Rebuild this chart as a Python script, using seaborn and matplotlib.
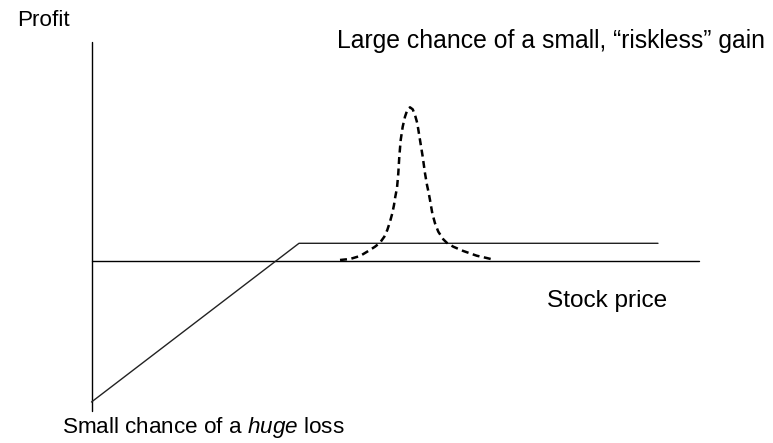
import matplotlib
matplotlib.use("Agg")
import matplotlib.pyplot as plt
import seaborn as sns

# ---- data (arbitrary units: stock price vs profit) ----
axis_price = [0, 607.5]
axis_profit_zero = [0, 0]
vaxis_price = [0, 0]
vaxis_profit = [-150, 218.5]

payoff_price = [0, 207.5, 566.5]
payoff_profit = [-141.5, 17.2, 17.2]

dist_price = [248.5, 258.5, 268.5, 276.8, 283.5, 288.5, 292.8, 295.8, 298.5, 300.8,
              302.5, 303.8, 305.5, 306.8, 307.8, 309.2, 311.2, 313.5, 315.8, 318.5,
              321.2, 323.5, 325.8, 328.5, 331.2, 333.5, 335.5, 337.0, 338.5, 340.8,
              343.5, 346.8, 351.8, 355.2, 361.8, 371.8, 385.2, 395.2, 403.5]
dist_profit = [0.5, 1.5, 4.5, 9.5, 13.8, 17.8, 23.8, 30.5, 38.8, 47.2,
               55.5, 63.8, 72.5, 87.2, 103.8, 120.5, 133.8, 143.8, 150.5, 153.2,
               151.2, 145.5, 137.2, 120.5, 103.8, 87.2, 75.5, 68.5, 60.5, 47.2,
               37.2, 28.8, 21.2, 17.8, 13.8, 9.5, 4.8, 2.5, 0.5]

labels = {
    "profit": "Profit",
    "gain": "Large chance of a small, \u201criskless\u201d gain",
    "price": "Stock price",
    "loss": r"Small chance of a $\mathit{huge}$ loss",
}

sns.set_theme(style="white")
plt.rcParams["font.family"] = ["Liberation Sans", "DejaVu Sans"]
plt.rcParams["mathtext.fontset"] = "custom"
plt.rcParams["mathtext.rm"] = "Liberation Sans"
plt.rcParams["mathtext.it"] = "Liberation Sans:italic"
plt.rcParams["text.color"] = "black"

fig = plt.figure(figsize=(7.73, 4.43), dpi=100)
ax = fig.add_axes([0, 0, 1, 1])
ax.set_xlim(-91.5, 681.5)
ax.set_ylim(-182.5, 260.5)
ax.axis("off")

sns.lineplot(x=axis_price, y=axis_profit_zero, ax=ax, color="black", lw=1.0, estimator=None)
sns.lineplot(x=vaxis_price, y=vaxis_profit, ax=ax, color="black", lw=1.0, estimator=None, sort=False)
sns.lineplot(x=payoff_price, y=payoff_profit, ax=ax, color="#222222", lw=1.0, estimator=None)
line_ax = sns.lineplot(x=dist_price, y=dist_profit, ax=ax, color="black", lw=1.8,
                       estimator=None, linestyle=(0, (2.8, 1.8)))
line_ax.lines[-1].set_dash_capstyle("butt")
line_ax.lines[-1].set_solid_joinstyle("round")

ax.text(-21.5, 234, labels["profit"], fontsize=16.2, ha="right", va="baseline", color="black")
ax.text(245.2, 212.8, labels["gain"], fontsize=17.8, ha="left", va="baseline", color="black")
ax.text(455.2, -46.2, labels["price"], fontsize=17.6, ha="left", va="baseline", color="black")
ax.text(-29.8, -172.8, labels["loss"], fontsize=16.2, ha="left", va="baseline", color="black")

fig.savefig("out.png", dpi=100)
